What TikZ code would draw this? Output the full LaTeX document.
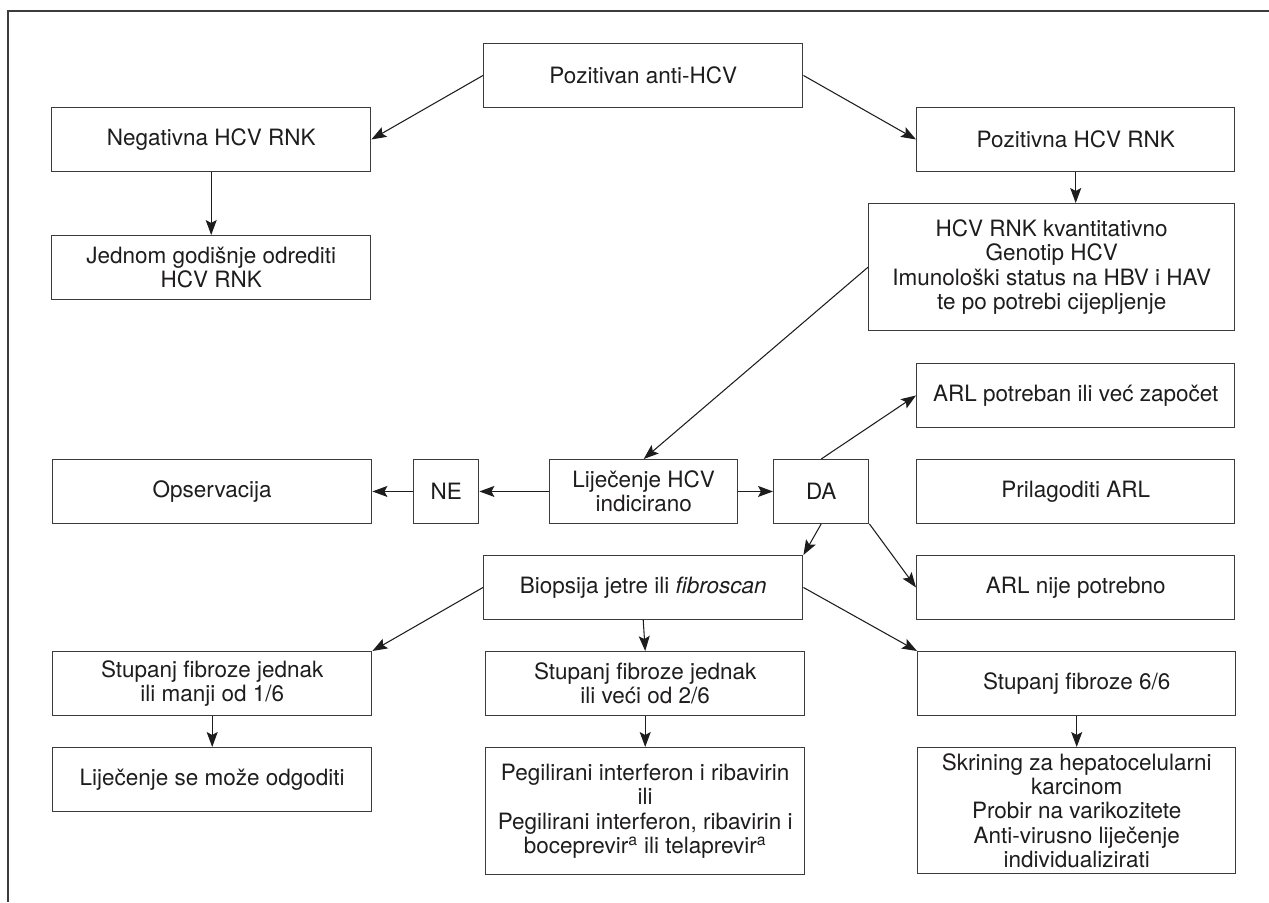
\documentclass[tikz,border=0pt]{standalone}
\usepackage{fontspec}
\setmainfont{TeX Gyre Heros}
\usepackage{tikz}
\usetikzlibrary{arrows.meta}
\definecolor{tinta}{RGB}{30,28,28}
\definecolor{rub}{RGB}{60,60,60}
\tikzstyle{kutija} = [rectangle, draw=rub, line width=0.8pt, text=tinta, minimum height=1.27cm, minimum width=6.38cm, align=center, inner sep=1pt, font=\fontsize{12.8}{13.9}\selectfont]
\tikzstyle{strelica} = [draw=tinta, line width=0.6pt, -{Stealth[length=3mm,width=2.2mm,inset=0.6mm]}]

\begin{document}
\begin{tikzpicture}

        \useasboundingbox (0,0) rectangle (25.38,-18.04);
        \draw [rub, line width=0.85pt] (25.38,-0.22) -- (0.16,-0.22) -- (0.16,-18.04);

        \node (anti) [kutija, anchor=north west] at (9.66,-0.86) {Pozitivan anti-HCV};
        \node (neg) [kutija, anchor=north west] at (1.02,-2.14) {Negativna HCV RNK};
        \node (poz) [kutija, anchor=north west, minimum width=6.36cm] at (18.32,-2.14) {Pozitivna HCV RNK};
        \node (jed) [kutija, anchor=north west] at (1.02,-4.70) {Jednom godišnje odrediti\\HCV RNK};
        \node (kvant) [kutija, anchor=north west, minimum width=7.32cm, minimum height=2.54cm] at (17.36,-4.06) {HCV RNK kvantitativno\\Genotip HCV\\Imunološki status na HBV i HAV\\te po potrebi cijepljenje};

        \node (arl1) [kutija, anchor=north west, minimum width=6.36cm] at (18.32,-7.26) {ARL potreban ili već započet};
        \node (obs) [kutija, anchor=north west] at (1.04,-9.18) {Opservacija};
        \node (ne) [kutija, anchor=north west, minimum width=1.30cm] at (8.26,-9.18) {NE};
        \node (lij) [kutija, anchor=north west, minimum width=3.76cm] at (10.98,-9.18) {Liječenje HCV\\indicirano};
        \node (da) [kutija, anchor=north west, minimum width=1.90cm] at (15.46,-9.18) {DA};
        \node (arl2) [kutija, anchor=north west, minimum width=6.36cm] at (18.32,-9.18) {Prilagoditi ARL};
        \node (bio) [kutija, anchor=north west] at (9.66,-11.10) {Biopsija jetre ili \textit{fibroscan}};
        \node (arl3) [kutija, anchor=north west, minimum width=6.36cm] at (18.32,-11.10) {ARL nije potrebno};

        \node (st1) [kutija, anchor=north west] at (1.04,-13.02) {Stupanj fibroze jednak\\ili manji od 1/6};
        \node (odg) [kutija, anchor=north west] at (1.04,-14.94) {Liječenje se može odgoditi};
        \node (st2) [kutija, anchor=north west] at (9.70,-13.02) {Stupanj fibroze jednak\\ili veći od 2/6};
        \node (peg) [kutija, anchor=north west, minimum height=2.54cm] at (9.70,-14.94) {Pegilirani interferon i ribavirin\\ili\\Pegilirani interferon, ribavirin i\\boceprevir\textsuperscript{a} ili telaprevir\textsuperscript{a}};
        \node (st6) [kutija, anchor=north west, minimum width=6.36cm] at (18.34,-13.02) {Stupanj fibroze 6/6};
        \node (skr) [kutija, anchor=north west, minimum width=6.36cm, minimum height=2.52cm] at (18.34,-14.94) {Skrining za hepatocelularni\\karcinom\\Probir na varikozitete\\Anti-virusno liječenje\\individualizirati};

        \draw [strelica] (anti.west) -- (neg.east);
        \draw [strelica] (anti.east) -- (poz.west);
        \draw [strelica] (neg.south) -- (jed.north);
        \draw [strelica] (poz.south) -- (poz.south |- kvant.north);
        \draw [strelica] (kvant.west) -- (lij.north);
        \draw [strelica] (lij.west) -- (ne.east);
        \draw [strelica] (ne.west) -- (obs.east);
        \draw [strelica] (lij.east) -- (da.west);
        \draw [strelica] (da.north) -- (arl1.west);
        \draw [strelica] (da.south) -- (bio.north east);
        \draw [strelica] (da.south east) -- (arl3.west);
        \draw [strelica] (bio.west) -- (st1.north east);
        \draw [strelica] (bio.south) -- (st2.north);
        \draw [strelica] (bio.east) -- (st6.north west);
        \draw [strelica] (st1.south) -- (odg.north);
        \draw [strelica] (st2.south) -- (peg.north);
        \draw [strelica] (st6.south) -- (skr.north);

    \end{tikzpicture}
\end{document}
